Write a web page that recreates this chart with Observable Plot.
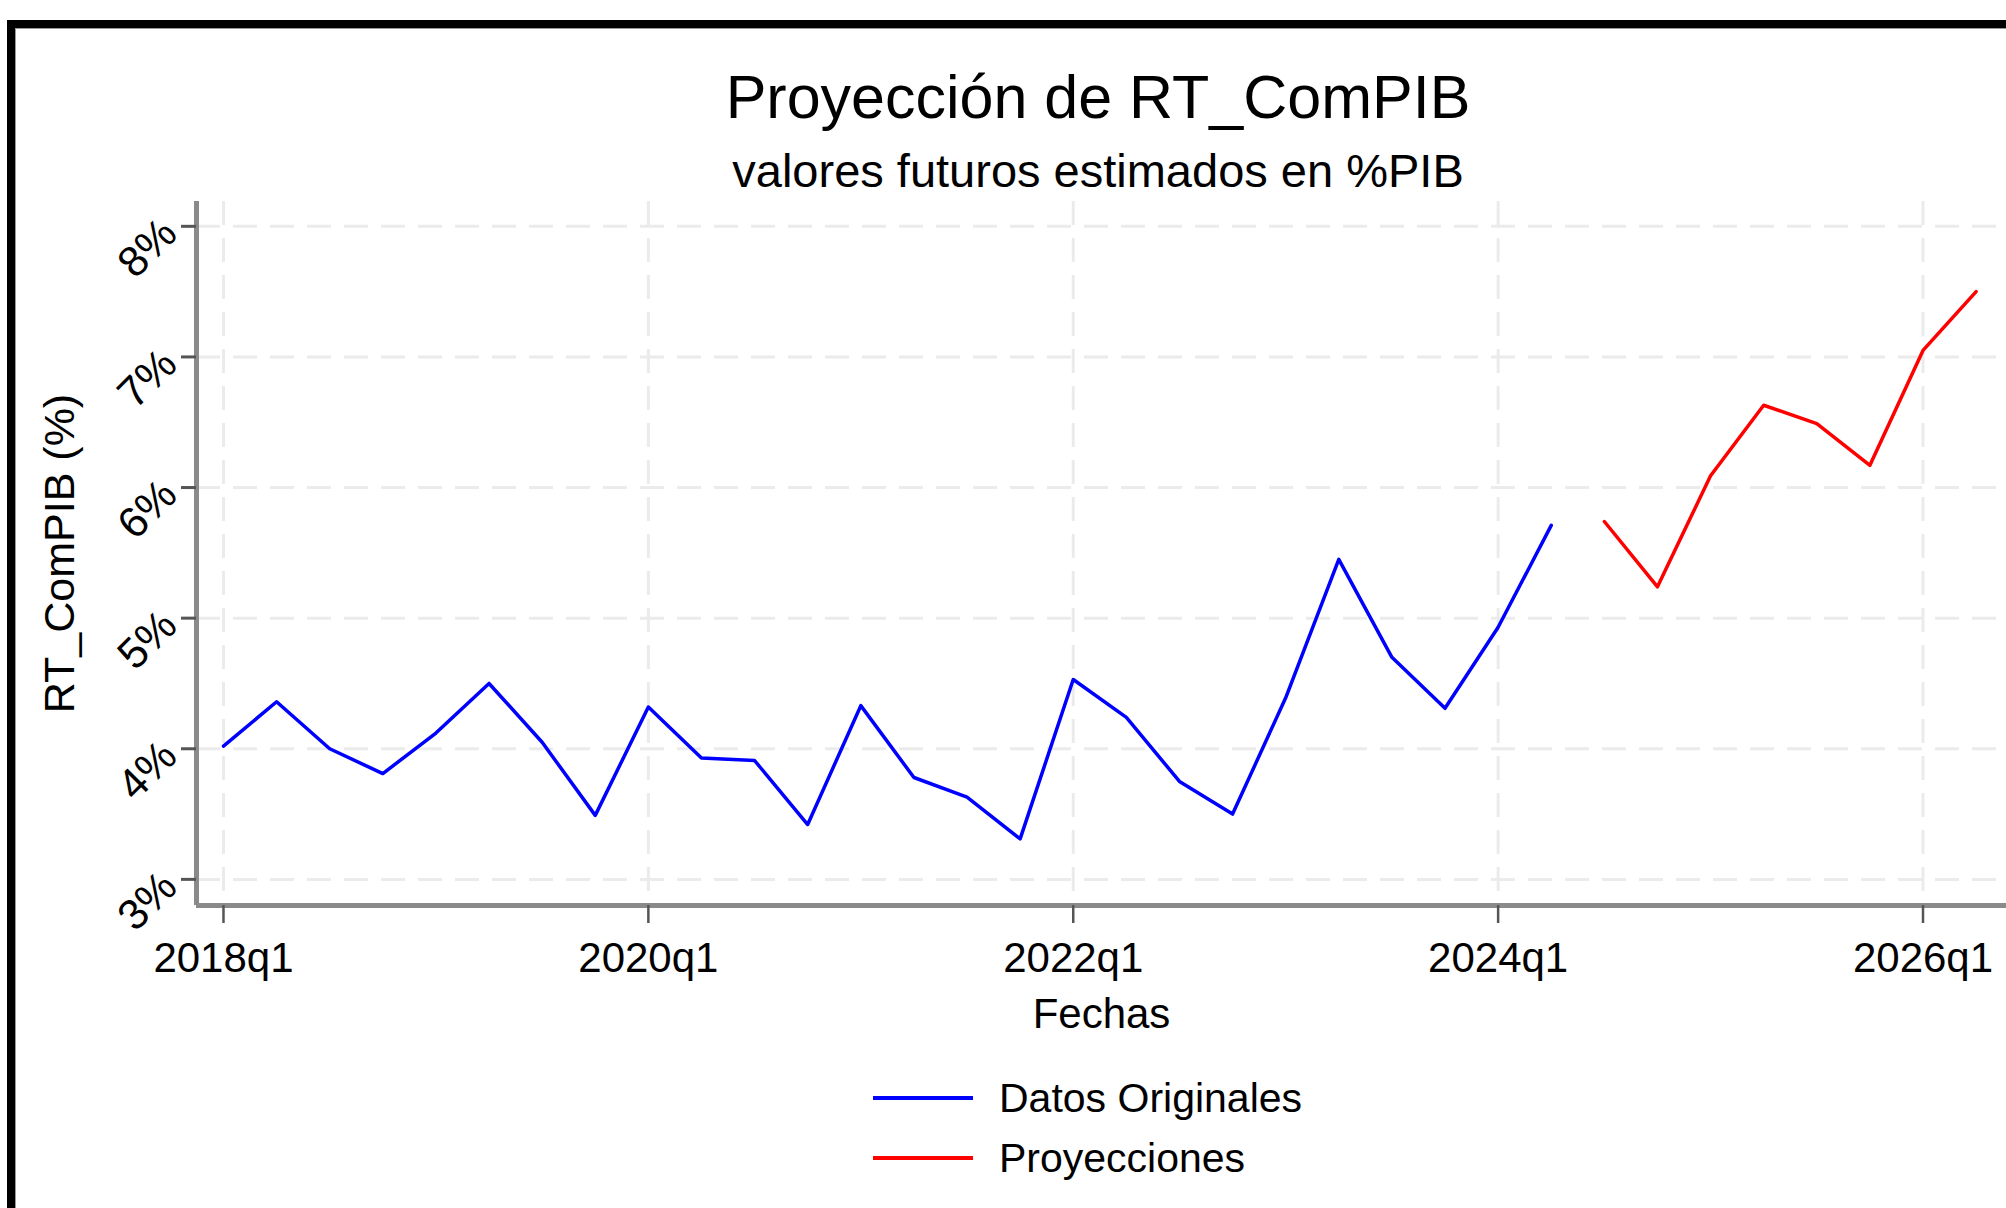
<!DOCTYPE html>
<html>
<head>
<meta charset="utf-8">
<script src="https://cdn.jsdelivr.net/npm/d3@7"></script>
<script src="https://cdn.jsdelivr.net/npm/@observablehq/plot@0.6"></script>
<style>
  html, body { margin: 0; padding: 0; background: #fff; overflow: hidden; width: 2006px; height: 1208px; }
  body { font-family: "Liberation Sans", Arial, sans-serif; color: #000; position: relative; }
  #frame { position: absolute; left: 7px; top: 20px; width: 2100px; height: 1300px;
           border-top: 8px solid #000; border-left: 8px solid #000; box-sizing: border-box;
           box-shadow: inset 1px 1px 0 #999; }
  #chart { position: absolute; left: 0; top: 0; }
  .title { position: absolute; left: 1098px; transform: translateX(-50%); white-space: nowrap; line-height: 1; }
  #t1 { top: 67px; font-size: 61px; }
  #t2 { top: 147px; font-size: 47px; }
  .legline { position: absolute; left: 873px; width: 100px; height: 4px; }
  .legtext { position: absolute; left: 999px; font-size: 41px; line-height: 1; white-space: nowrap; }
</style>
</head>
<body>
<div id="frame"></div>
<div id="chart"></div>
<div class="title" id="t1">Proyección de RT_ComPIB</div>
<div class="title" id="t2">valores futuros estimados en %PIB</div>
<div id="legend"></div>
<script>
// ---- data ----
const origQuarters = ["2018q1","2018q2","2018q3","2018q4","2019q1","2019q2","2019q3","2019q4",
                      "2020q1","2020q2","2020q3","2020q4","2021q1","2021q2","2021q3","2021q4",
                      "2022q1","2022q2","2022q3","2022q4","2023q1","2023q2","2023q3","2023q4",
                      "2024q1","2024q2"];
const origValues = [4.02, 4.36, 4.00, 3.81, 4.12, 4.50, 4.05, 3.49,
                    4.32, 3.93, 3.91, 3.42, 4.33, 3.78, 3.63, 3.31,
                    4.53, 4.24, 3.75, 3.50, 4.39, 5.45, 4.70, 4.31,
                    4.93, 5.71];
const projQuarters = ["2024q3","2024q4","2025q1","2025q2","2025q3","2025q4","2026q1","2026q2"];
const projValues = [5.74, 5.24, 6.09, 6.63, 6.49, 6.17, 7.05, 7.50];

const seriesNames = ["Datos Originales", "Proyecciones"];
const seriesColors = ["#0000ff", "#ff0000"];
const xTickYears = [2018, 2020, 2022, 2024, 2026];
const yTickValues = [3, 4, 5, 6, 7, 8];
const xDomain = [2017.873, 2026.393];
const yDomain = [2.8, 8.19];

const toYear = q => +q.slice(0, 4) + (+q.slice(5) - 1) / 4;
const rows = [
  ...origQuarters.map((q, i) => ({t: toYear(q), v: origValues[i], s: seriesNames[0]})),
  ...projQuarters.map((q, i) => ({t: toYear(q), v: projValues[i], s: seriesNames[1]}))
];

const grid = {stroke: "#ebebeb", strokeOpacity: 1, strokeWidth: 3, strokeDasharray: "24,13"};

const chart = Plot.plot({
  width: 2006,
  height: 1060,
  marginLeft: 196,
  marginRight: 0,
  marginTop: 201,
  marginBottom: 155,
  style: {background: "transparent", fontFamily: "'Liberation Sans', Arial, sans-serif", fontSize: "42px", color: "#000", overflow: "visible"},
  x: {type: "linear", domain: xDomain},
  y: {type: "linear", domain: yDomain},
  color: {domain: seriesNames, range: seriesColors},
  marks: [
    Plot.gridX(xTickYears, grid),
    Plot.gridY(yTickValues, grid),
    Plot.ruleX([xDomain[0]], {stroke: "#8a8a8a", strokeWidth: 5}),
    Plot.ruleY([yDomain[0]], {stroke: "#8a8a8a", strokeWidth: 5}),
    Plot.axisX(xTickYears, {
      tickFormat: d => d + "q1", tickSize: 18, tickPadding: 19,
      stroke: "#555", strokeWidth: 2.5, fontSize: 42, fill: "#000",
      label: "Fechas", labelAnchor: "center", labelArrow: "none", labelOffset: 122
    }),
    Plot.axisY(yTickValues, {
      tickFormat: d => d + "%", tickSize: 15, tickPadding: 12, tickRotate: -45,
      stroke: "#555", strokeWidth: 3, fontSize: 43, fill: "#000",
      label: "RT_ComPIB (%)", labelAnchor: "center", labelArrow: "none", labelOffset: 153
    }),
    Plot.line(rows, {x: "t", y: "v", z: "s", stroke: "s", strokeWidth: 3.5})
  ]
});
document.getElementById("chart").appendChild(chart);

// legend
const legend = document.getElementById("legend");
const legLineTops = [1096, 1156];
const legTextTops = [1078, 1138];
seriesNames.forEach((name, i) => {
  const ln = document.createElement("div");
  ln.className = "legline";
  ln.style.top = legLineTops[i] + "px";
  ln.style.background = seriesColors[i];
  legend.appendChild(ln);
  const tx = document.createElement("div");
  tx.className = "legtext";
  tx.style.top = legTextTops[i] + "px";
  tx.textContent = name;
  legend.appendChild(tx);
});
</script>
</body>
</html>
